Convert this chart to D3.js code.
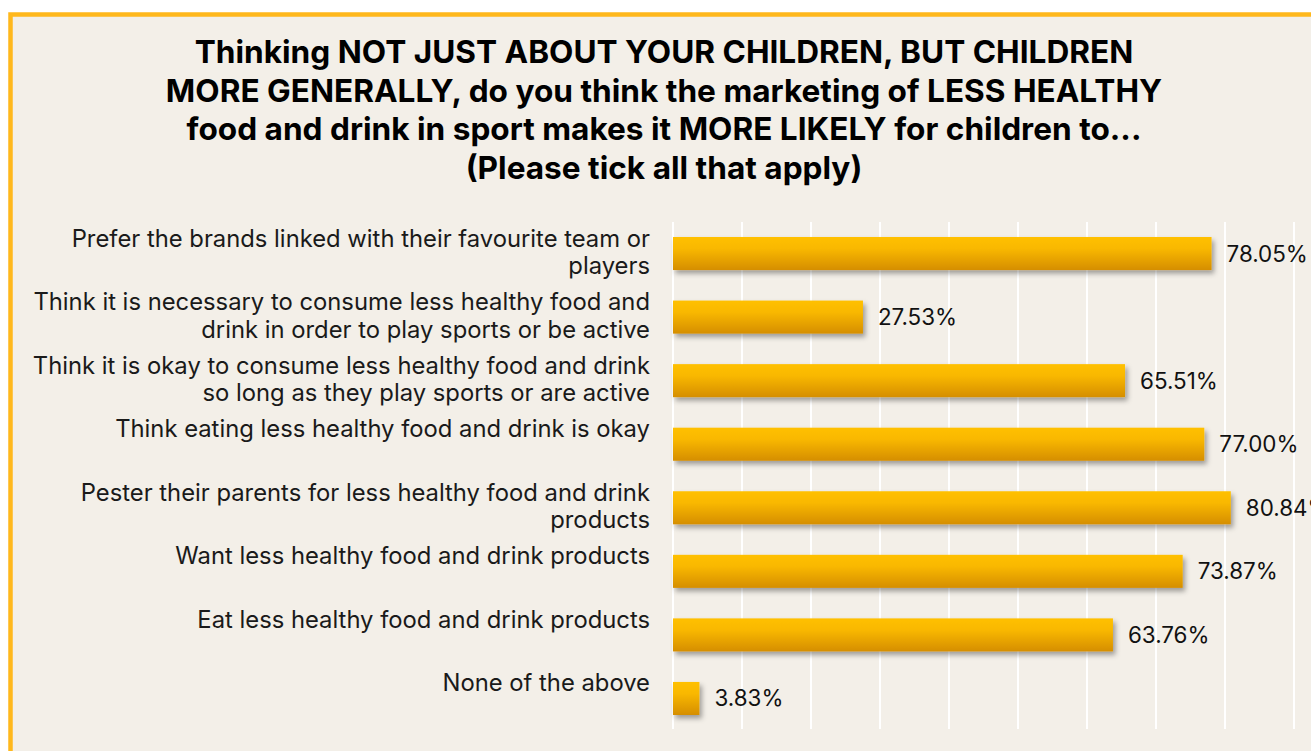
<!DOCTYPE html>
<html>
<head>
<meta charset="utf-8">
<script src="https://cdn.jsdelivr.net/npm/d3@7"></script>
<style>
  body { margin: 0; background: #fff; }
  svg { display: block; }
</style>
</head>
<body>
<svg id="chart"></svg>
<script>
// answers, top to bottom as in the survey chart
var categories = [
  "Prefer the brands linked with their favourite team or players",
  "Think it is necessary to consume less healthy food and drink in order to play sports or be active",
  "Think it is okay to consume less healthy food and drink so long as they play sports or are active",
  "Think eating less healthy food and drink is okay",
  "Pester their parents for less healthy food and drink products",
  "Want less healthy food and drink products",
  "Eat less healthy food and drink products",
  "None of the above"
];
var values = [78.05, 27.53, 65.51, 77.00, 80.84, 73.87, 63.76, 3.83];
var gridTicks = [0, 10, 20, 30, 40, 50, 60, 70, 80, 90, 100];
var titleLines = [
  "Thinking NOT JUST ABOUT YOUR CHILDREN, BUT CHILDREN",
  "MORE GENERALLY, do you think the marketing of LESS HEALTHY",
  "food and drink in sport makes it MORE LIKELY for children to...",
  "(Please tick all that apply)"
];

var svgWidth = 1311, svgHeight = 751;
var font = "Inter, 'Noto Sans', sans-serif";

var svg = d3.select("#chart")
  .attr("width", svgWidth)
  .attr("height", svgHeight);

var defs = svg.append("defs");
var grad = defs.append("linearGradient")
  .attr("id", "barFill")
  .attr("x1", 0).attr("y1", 0).attr("x2", 0).attr("y2", 1);
grad.append("stop").attr("offset", "0%").attr("stop-color", "#ffc000");
grad.append("stop").attr("offset", "35%").attr("stop-color", "#f9b800");
grad.append("stop").attr("offset", "100%").attr("stop-color", "#d58e00");

var shadow = defs.append("filter")
  .attr("id", "barShadow")
  .attr("x", "-10%").attr("y", "-20%")
  .attr("width", "130%").attr("height", "160%");
shadow.append("feDropShadow")
  .attr("dx", 2.5).attr("dy", 3.5)
  .attr("stdDeviation", 2.5)
  .attr("flood-color", "#000")
  .attr("flood-opacity", 0.35);

// chart frame (runs off the right and bottom edge)
svg.append("rect")
  .attr("x", 10.5).attr("y", 14.5)
  .attr("width", 1400).attr("height", 800)
  .attr("fill", "#f3efe8")
  .attr("stroke", "#ffb81c")
  .attr("stroke-width", 4.5);

// title
svg.append("text")
  .attr("text-anchor", "middle")
  .attr("font-family", font)
  .attr("font-weight", 700)
  .attr("font-size", 31.6)
  .attr("fill", "#000")
  .selectAll("tspan")
  .data(titleLines)
  .join("tspan")
  .attr("x", 664)
  .attr("y", function(d, i) { return 63 + i * 38.7; })
  .text(function(d) { return d; });

var x = d3.scaleLinear()
  .domain([0, 100])
  .range([673, 1363]);

var y = d3.scaleBand()
  .domain(categories)
  .range([222, 730])
  .paddingInner(0.48)
  .paddingOuter(0.236);

// vertical gridlines
svg.append("g")
  .selectAll("line")
  .data(gridTicks)
  .join("line")
  .attr("x1", function(d) { return x(d); })
  .attr("x2", function(d) { return x(d); })
  .attr("y1", 222)
  .attr("y2", 729)
  .attr("stroke", "#ffffff")
  .attr("stroke-width", 2);

// bars
svg.append("g")
  .attr("filter", "url(#barShadow)")
  .selectAll("rect")
  .data(values)
  .join("rect")
  .attr("x", x(0))
  .attr("y", function(d, i) { return y(categories[i]); })
  .attr("width", function(d) { return x(d) - x(0); })
  .attr("height", y.bandwidth())
  .attr("fill", "url(#barFill)");

// value labels
svg.append("g")
  .selectAll("text")
  .data(values)
  .join("text")
  .attr("x", function(d) { return x(d) + 15; })
  .attr("y", function(d, i) { return y(categories[i]) + y.bandwidth() / 2 + 8; })
  .attr("font-family", font)
  .attr("font-size", 22.4)
  .attr("fill", "#111")
  .text(function(d) { return d.toFixed(2) + "%"; });

// category labels, wrapped and right aligned
var labelG = svg.append("g")
  .attr("font-family", font)
  .attr("font-size", 23.8)
  .attr("fill", "#1a1a1a")
  .attr("text-anchor", "end");

var maxLabelWidth = 632;
categories.forEach(function(cat) {
  var t = labelG.append("text");
  var words = cat.split(" ");
  var lines = [];
  var line = [];
  var probe = t.append("tspan");
  words.forEach(function(w) {
    line.push(w);
    probe.text(line.join(" "));
    if (probe.node().getComputedTextLength() > maxLabelWidth && line.length > 1) {
      line.pop();
      lines.push(line.join(" "));
      line = [w];
    }
  });
  lines.push(line.join(" "));
  probe.remove();
  t.selectAll("tspan")
    .data(lines)
    .join("tspan")
    .attr("x", 650)
    .attr("y", function(d, i) { return y(cat) + 9.5 + i * 27.5; })
    .text(function(d) { return d; });
});
</script>
</body>
</html>
